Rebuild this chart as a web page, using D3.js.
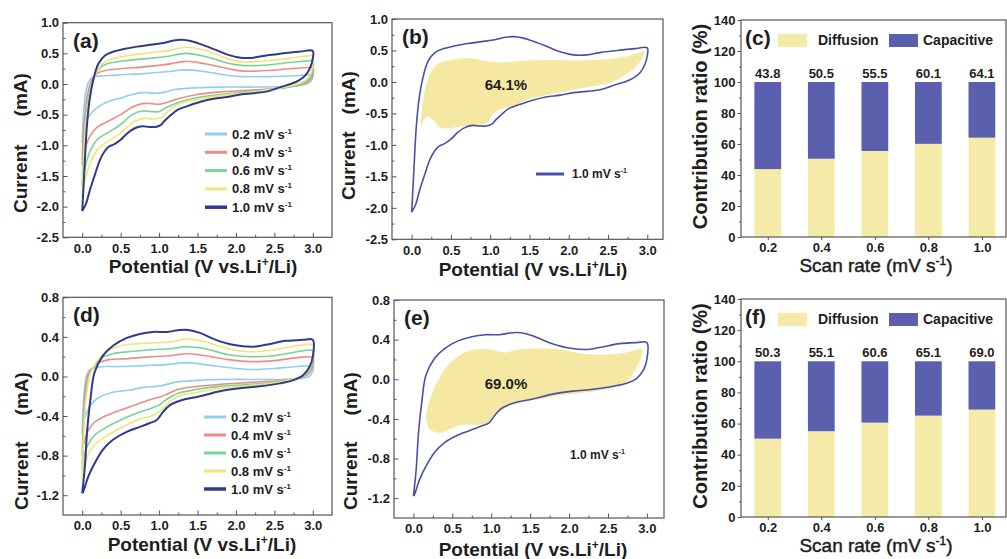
<!DOCTYPE html>
<html>
<head>
<meta charset="utf-8">
<script src="https://cdn.jsdelivr.net/npm/d3@7"></script>
<style>
  body { margin: 0; background: #fff; }
  svg { display: block; font-family: "Liberation Sans", Arial, sans-serif; }
</style>
</head>
<body>
<svg id="fig" width="1007" height="559"></svg>
<script>
// ---------------- data ----------------
const scanRates = [0.2, 0.4, 0.6, 0.8, 1.0];
const diffusionC = [43.8, 50.5, 55.5, 60.1, 64.1];
const diffusionF = [50.3, 55.1, 60.6, 65.1, 69.0];

const potentialTicks = [0.0, 0.5, 1.0, 1.5, 2.0, 2.5, 3.0];
const currentTicksTop = [-2.5, -2.0, -1.5, -1.0, -0.5, 0.0, 0.5, 1.0];
const currentTicksBottom = [-1.2, -0.8, -0.4, 0.0, 0.4, 0.8];
const ratioTicks = [0, 20, 40, 60, 80, 100, 120, 140];

// CV loops, sample 1: [potential V, current mA], anodic sweep then cathodic sweep
const cvA02 = [[0.0,-0.97],[0.01,-0.6],[0.03,-0.3],[0.06,-0.05],[0.1,0.07],[0.15,0.12],[0.25,0.13],[0.5,0.15],[0.8,0.17],[1.1,0.2],[1.35,0.23],[1.6,0.2],[1.9,0.14],[2.1,0.12],[2.4,0.12],[2.7,0.13],[2.95,0.15],[3.0,0.16],
  [3.0,0.1],[2.95,0.02],[2.85,-0.02],[2.6,-0.04],[2.2,-0.05],[1.8,-0.05],[1.5,-0.06],[1.2,-0.09],[1.05,-0.14],[0.95,-0.15],[0.8,-0.14],[0.65,-0.17],[0.5,-0.23],[0.35,-0.28],[0.2,-0.38],[0.1,-0.5],[0.05,-0.62],[0.02,-0.8],[0.0,-0.97]];
const cvA04 = [[0.0,-1.32],[0.01,-0.9],[0.04,-0.45],[0.08,-0.1],[0.14,0.1],[0.2,0.18],[0.3,0.22],[0.5,0.25],[0.8,0.28],[1.1,0.32],[1.35,0.37],[1.6,0.33],[1.9,0.25],[2.1,0.21],[2.4,0.22],[2.7,0.25],[2.95,0.27],[3.0,0.27],
  [3.0,0.15],[2.95,0.05],[2.85,-0.01],[2.6,-0.06],[2.2,-0.1],[1.8,-0.13],[1.5,-0.17],[1.25,-0.24],[1.1,-0.3],[1.0,-0.33],[0.9,-0.32],[0.78,-0.32],[0.65,-0.38],[0.5,-0.5],[0.35,-0.6],[0.2,-0.7],[0.1,-0.85],[0.04,-1.05],[0.0,-1.32]];
const cvA06 = [[0.0,-1.65],[0.015,-1.1],[0.05,-0.5],[0.1,-0.1],[0.16,0.12],[0.22,0.25],[0.3,0.32],[0.5,0.37],[0.8,0.41],[1.1,0.45],[1.35,0.5],[1.6,0.45],[1.9,0.34],[2.1,0.3],[2.4,0.31],[2.7,0.35],[2.95,0.38],[3.0,0.38],
  [3.0,0.22],[2.95,0.08],[2.85,0.0],[2.6,-0.07],[2.2,-0.12],[1.8,-0.17],[1.5,-0.22],[1.25,-0.3],[1.1,-0.38],[1.0,-0.45],[0.9,-0.45],[0.78,-0.44],[0.65,-0.5],[0.5,-0.66],[0.35,-0.78],[0.2,-0.9],[0.1,-1.1],[0.04,-1.35],[0.0,-1.65]];
const cvA08 = [[0.0,-1.85],[0.015,-1.3],[0.05,-0.6],[0.1,-0.15],[0.17,0.15],[0.24,0.3],[0.32,0.38],[0.5,0.44],[0.8,0.5],[1.1,0.54],[1.35,0.6],[1.6,0.55],[1.9,0.41],[2.1,0.36],[2.4,0.38],[2.7,0.42],[2.95,0.46],[3.0,0.46],
  [3.0,0.3],[2.95,0.12],[2.85,0.02],[2.6,-0.06],[2.2,-0.13],[1.8,-0.19],[1.5,-0.25],[1.25,-0.33],[1.12,-0.44],[1.02,-0.55],[0.92,-0.57],[0.8,-0.56],[0.65,-0.63],[0.5,-0.8],[0.35,-0.92],[0.2,-1.07],[0.1,-1.3],[0.04,-1.55],[0.0,-1.85]];
const cvA10 = [[0.0,-2.07],[0.017,-1.68],[0.035,-1.24],[0.06,-0.7],[0.096,-0.26],[0.15,0.1],[0.21,0.33],[0.3,0.47],[0.41,0.53],[0.54,0.57],[0.71,0.61],[0.89,0.64],[1.06,0.67],[1.19,0.71],[1.3,0.72],[1.41,0.7],[1.54,0.65],[1.71,0.57],[1.89,0.48],[2.06,0.43],[2.23,0.43],[2.41,0.47],[2.62,0.5],[2.84,0.53],[3.0,0.54],
  [3.0,0.42],[2.97,0.28],[2.91,0.15],[2.82,0.06],[2.71,0.0],[2.58,-0.05],[2.41,-0.12],[2.23,-0.15],[2.06,-0.17],[1.89,-0.21],[1.71,-0.24],[1.54,-0.29],[1.37,-0.36],[1.24,-0.42],[1.15,-0.51],[1.08,-0.59],[1.02,-0.67],[0.95,-0.7],[0.87,-0.7],[0.78,-0.69],[0.67,-0.73],[0.58,-0.81],[0.5,-0.91],[0.42,-0.98],[0.35,-1.02],[0.29,-1.1],[0.23,-1.24],[0.17,-1.46],[0.1,-1.73],[0.05,-1.95],[0.0,-2.07]];

// CV loops, sample 2
const cvD02 = [[0.0,-0.58],[0.01,-0.35],[0.03,-0.12],[0.06,0.02],[0.1,0.07],[0.18,0.09],[0.3,0.1],[0.5,0.1],[0.8,0.11],[1.1,0.12],[1.35,0.14],[1.6,0.12],[1.9,0.09],[2.2,0.07],[2.5,0.08],[2.8,0.1],[3.0,0.1],
  [3.0,0.05],[2.95,0.0],[2.85,-0.02],[2.6,-0.03],[2.2,-0.03],[1.8,-0.03],[1.5,-0.04],[1.2,-0.06],[1.05,-0.09],[0.95,-0.1],[0.8,-0.11],[0.6,-0.14],[0.4,-0.16],[0.2,-0.22],[0.1,-0.3],[0.04,-0.4],[0.01,-0.5],[0.0,-0.58]];
const cvD04 = [[0.0,-0.8],[0.015,-0.45],[0.04,-0.15],[0.08,0.02],[0.14,0.09],[0.22,0.14],[0.35,0.17],[0.6,0.18],[0.9,0.2],[1.15,0.21],[1.35,0.23],[1.6,0.21],[1.9,0.17],[2.2,0.15],[2.5,0.16],[2.8,0.19],[3.0,0.19],
  [3.0,0.1],[2.95,0.03],[2.85,-0.01],[2.6,-0.04],[2.2,-0.06],[1.8,-0.08],[1.5,-0.1],[1.25,-0.13],[1.1,-0.18],[1.0,-0.21],[0.9,-0.23],[0.75,-0.27],[0.5,-0.34],[0.3,-0.4],[0.15,-0.47],[0.07,-0.56],[0.02,-0.68],[0.0,-0.8]];
const cvD06 = [[0.0,-0.95],[0.015,-0.55],[0.05,-0.18],[0.1,0.03],[0.17,0.12],[0.26,0.19],[0.4,0.23],[0.6,0.25],[0.9,0.27],[1.15,0.28],[1.35,0.3],[1.6,0.28],[1.9,0.22],[2.2,0.2],[2.5,0.21],[2.8,0.25],[3.0,0.26],
  [3.0,0.14],[2.95,0.05],[2.85,0.0],[2.6,-0.05],[2.2,-0.08],[1.8,-0.1],[1.5,-0.13],[1.25,-0.17],[1.1,-0.23],[1.0,-0.29],[0.9,-0.32],[0.75,-0.36],[0.5,-0.44],[0.3,-0.52],[0.15,-0.6],[0.07,-0.7],[0.02,-0.82],[0.0,-0.95]];
const cvD08 = [[0.0,-1.05],[0.015,-0.65],[0.05,-0.22],[0.11,0.04],[0.19,0.15],[0.3,0.24],[0.45,0.3],[0.7,0.33],[0.95,0.34],[1.15,0.35],[1.35,0.38],[1.6,0.35],[1.9,0.28],[2.2,0.25],[2.5,0.27],[2.8,0.31],[3.0,0.32],
  [3.0,0.18],[2.95,0.07],[2.85,0.0],[2.6,-0.05],[2.2,-0.09],[1.8,-0.12],[1.5,-0.16],[1.25,-0.2],[1.1,-0.28],[1.0,-0.36],[0.9,-0.4],[0.75,-0.43],[0.5,-0.52],[0.3,-0.61],[0.15,-0.7],[0.07,-0.8],[0.02,-0.92],[0.0,-1.05]];
const cvD10 = [[0.0,-1.18],[0.035,-0.91],[0.065,-0.54],[0.11,-0.21],[0.16,0.04],[0.27,0.21],[0.4,0.31],[0.58,0.39],[0.75,0.43],[0.92,0.45],[1.1,0.45],[1.27,0.47],[1.38,0.47],[1.53,0.44],[1.74,0.37],[1.96,0.32],[2.22,0.3],[2.39,0.32],[2.65,0.36],[2.87,0.37],[3.0,0.37],
  [3.0,0.2],[2.96,0.1],[2.87,0.01],[2.74,-0.04],[2.57,-0.07],[2.31,-0.1],[2.05,-0.12],[1.79,-0.15],[1.53,-0.2],[1.29,-0.24],[1.14,-0.29],[1.05,-0.36],[0.97,-0.44],[0.88,-0.47],[0.75,-0.51],[0.58,-0.56],[0.4,-0.64],[0.27,-0.74],[0.16,-0.88],[0.08,-1.01],[0.01,-1.17],[0.0,-1.18]];

// capacitive-controlled region at 1.0 mV s-1
const capB = [[0.12,-0.71],[0.14,-0.34],[0.18,-0.07],[0.24,0.14],[0.35,0.3],[0.5,0.35],[0.73,0.38],[0.9,0.34],[1.16,0.31],[1.45,0.34],[1.79,0.35],[2.13,0.34],[2.47,0.36],[2.72,0.4],[2.89,0.46],[2.96,0.48],
  [2.94,0.38],[2.85,0.24],[2.72,0.11],[2.55,0.0],[2.3,-0.07],[2.0,-0.14],[1.71,-0.21],[1.45,-0.29],[1.33,-0.37],[1.24,-0.4],[1.11,-0.44],[1.03,-0.52],[0.97,-0.63],[0.86,-0.71],[0.69,-0.7],[0.56,-0.72],[0.44,-0.74],[0.35,-0.71],[0.27,-0.6],[0.2,-0.55],[0.16,-0.6]];
const capE = [[0.18,-0.46],[0.16,-0.36],[0.22,-0.19],[0.31,-0.02],[0.44,0.14],[0.61,0.25],[0.78,0.3],[0.99,0.3],[1.17,0.27],[1.34,0.3],[1.59,0.31],[1.89,0.3],[2.15,0.26],[2.41,0.25],[2.67,0.26],[2.94,0.3],
  [2.92,0.21],[2.84,0.08],[2.75,-0.02],[2.54,-0.09],[2.24,-0.13],[1.89,-0.16],[1.55,-0.21],[1.34,-0.24],[1.17,-0.29],[1.04,-0.36],[0.95,-0.44],[0.82,-0.46],[0.61,-0.46],[0.48,-0.5],[0.35,-0.54],[0.27,-0.53],[0.2,-0.5]];

// ---------------- style ----------------
const INK = "#1e1e1e";
const FRAME = "#555";
const rateColors = ["#8ed0ee", "#f08a84", "#78d494", "#eee67a", "#2f3a8f"];
const DIFF_COLOR = "#f4eba8";
const CAP_COLOR = "#5a5fae";
const FILL_COLOR = "#f4e8a2";

const svg = d3.select("#fig");
svg.append("rect").attr("width", 1007).attr("height", 559).attr("fill", "#fff");

function styleTicks(sel, size) {
  sel.select(".domain").remove();
  sel.selectAll(".tick line").attr("stroke", FRAME);
  sel.selectAll(".tick text")
    .attr("fill", INK).attr("font-size", size).attr("font-weight", "bold")
    .attr("font-family", "'Liberation Sans', Arial, sans-serif");
}

// text made of plain runs and raised runs
function supText(g, x, y, parts, opts) {
  const t = g.append("text").attr("x", x).attr("y", y)
    .attr("fill", INK).attr("font-size", opts.size)
    .attr("font-weight", opts.weight || "bold")
    .attr("text-anchor", opts.anchor || "start");
  const lift = opts.size * 0.38;
  let raised = false;
  parts.forEach(p => {
    const span = t.append("tspan");
    if (p.sup) {
      span.attr("font-size", Math.round(opts.size * 0.62)).attr("dy", -lift).text(p.sup);
      raised = true;
    } else {
      if (raised) { span.attr("dy", lift); raised = false; }
      span.text(p.t);
    }
  });
  return t;
}

const fmt1 = d => d.toFixed(1);
const potentialTitle = [{t: "Potential (V vs.Li"}, {sup: "+"}, {t: "/Li)"}];
const rateLabel = r => [{t: fmt1(r) + " mV s"}, {sup: "-1"}];

function cvPanel(cfg) {
  const g = svg.append("g");
  const x = d3.scaleLinear().domain(cfg.xDomain).range([cfg.left, cfg.right]);
  const y = d3.scaleLinear().domain(cfg.yDomain).range([cfg.bottom, cfg.top]);

  // inward ticks, minor then major
  const xMinor = d3.range(0.25, 3.0, 0.5);
  const yMinor = cfg.yTicks.slice(0, -1).map((v, i) => (v + cfg.yTicks[i + 1]) / 2);
  g.append("g").attr("transform", `translate(0,${cfg.bottom})`)
    .call(d3.axisBottom(x).tickValues(xMinor).tickSize(-2.5).tickFormat(""))
    .call(s => styleTicks(s, 13));
  g.append("g").attr("transform", `translate(${cfg.left},0)`)
    .call(d3.axisLeft(y).tickValues(yMinor).tickSize(-2.5).tickFormat(""))
    .call(s => styleTicks(s, 13));
  g.append("g").attr("transform", `translate(0,${cfg.bottom})`)
    .call(d3.axisBottom(x).tickValues(potentialTicks).tickSize(-4.5).tickPadding(6).tickFormat(fmt1))
    .call(s => styleTicks(s, 13));
  g.append("g").attr("transform", `translate(${cfg.left},0)`)
    .call(d3.axisLeft(y).tickValues(cfg.yTicks).tickSize(-4.5).tickPadding(4).tickFormat(fmt1))
    .call(s => styleTicks(s, 13));

  const line = d3.line().x(d => x(d[0])).y(d => y(d[1])).curve(d3.curveCatmullRom.alpha(0.5));

  if (cfg.fill) {
    g.append("path").datum(cfg.fill)
      .attr("d", d3.line().x(d => x(d[0])).y(d => y(d[1])).curve(d3.curveCatmullRomClosed.alpha(0.5)))
      .attr("fill", FILL_COLOR).attr("stroke", "none");
  }
  cfg.loops.forEach((loop, i) => {
    g.append("path").datum(loop).attr("d", line)
      .attr("fill", "none").attr("stroke", cfg.colors[i])
      .attr("stroke-width", cfg.widths[i]).attr("stroke-linejoin", "round");
  });

  g.append("rect").attr("x", cfg.left).attr("y", cfg.top)
    .attr("width", cfg.right - cfg.left).attr("height", cfg.bottom - cfg.top)
    .attr("fill", "none").attr("stroke", FRAME).attr("stroke-width", 1.2);

  // panel letter
  g.append("text").attr("x", cfg.left + 10).attr("y", cfg.top + 25)
    .attr("font-size", 21).attr("font-weight", "bold").attr("fill", INK).text(cfg.letter);

  // axis titles
  supText(g, cfg.xTitleX, cfg.xTitleY, potentialTitle, {size: 19, anchor: "middle"});
  const yt = g.append("text").attr("transform", `translate(${cfg.yTitleX},${cfg.yTitleY}) rotate(-90)`)
    .attr("font-size", 19).attr("font-weight", "bold").attr("fill", INK);
  yt.append("tspan").text("Current");
  yt.append("tspan").attr("dx", cfg.yTitleGap).text("(mA)");

  return {g, x, y};
}

function cvLegend(g, lx, ly, step, rates, colors) {
  rates.forEach((r, i) => {
    const yy = ly + i * step;
    g.append("line").attr("x1", lx).attr("x2", lx + 22).attr("y1", yy).attr("y2", yy)
      .attr("stroke", colors[i]).attr("stroke-width", i === rates.length - 1 ? 3.5 : 3);
    supText(g, lx + 27, yy + 4.5, rateLabel(r), {size: 13});
  });
}

function barPanel(cfg) {
  const g = svg.append("g");
  const x = d3.scaleLinear().domain([0.1, 1.09]).range([cfg.left, cfg.right]);
  const y = d3.scaleLinear().domain([0, 140]).range([cfg.bottom, cfg.top]);
  const half = (x(0.3) - x(0.2)) / 2;

  g.append("g").attr("transform", `translate(${cfg.left},0)`)
    .call(d3.axisLeft(y).tickValues(d3.range(10, 140, 20)).tickSize(2).tickFormat(""))
    .call(s => styleTicks(s, 13));
  g.append("g").attr("transform", `translate(${cfg.left},0)`)
    .call(d3.axisLeft(y).tickValues(ratioTicks).tickSize(3.5).tickPadding(2).tickFormat(d3.format("d")))
    .call(s => styleTicks(s, 13));
  g.append("g").attr("transform", `translate(0,${cfg.bottom})`)
    .call(d3.axisBottom(x).tickValues(scanRates).tickSize(3).tickPadding(3).tickFormat(fmt1))
    .call(s => styleTicks(s, 13));

  // stacked bars: diffusion part from 0, capacitive part to 100
  g.selectAll("rect.diff").data(scanRates).join("rect").attr("class", "diff")
    .attr("x", d => x(d) - half).attr("width", half * 2)
    .attr("y", (d, i) => y(cfg.values[i])).attr("height", (d, i) => y(0) - y(cfg.values[i]))
    .attr("fill", DIFF_COLOR);
  g.selectAll("rect.cap").data(scanRates).join("rect").attr("class", "cap")
    .attr("x", d => x(d) - half).attr("width", half * 2)
    .attr("y", y(100)).attr("height", (d, i) => y(cfg.values[i]) - y(100))
    .attr("fill", CAP_COLOR);
  g.selectAll("text.val").data(scanRates).join("text").attr("class", "val")
    .attr("x", d => x(d)).attr("y", y(100) - 4).attr("text-anchor", "middle")
    .attr("font-size", 13).attr("font-weight", "bold").attr("fill", INK)
    .text((d, i) => cfg.values[i].toFixed(1));

  g.append("rect").attr("x", cfg.left).attr("y", cfg.top)
    .attr("width", cfg.right - cfg.left).attr("height", cfg.bottom - cfg.top)
    .attr("fill", "none").attr("stroke", FRAME).attr("stroke-width", 1.2);

  // letter + legend
  g.append("text").attr("x", cfg.left + 4).attr("y", cfg.top + 25)
    .attr("font-size", 21).attr("font-weight", "bold").attr("fill", INK).text(cfg.letter);
  const ly = cfg.top + 14;
  g.append("rect").attr("x", 778).attr("y", ly).attr("width", 29).attr("height", 13).attr("fill", DIFF_COLOR);
  g.append("text").attr("x", 818).attr("y", ly + 11).attr("font-size", 14).attr("font-weight", "bold")
    .attr("fill", INK).text("Diffusion");
  g.append("rect").attr("x", 889).attr("y", ly).attr("width", 29).attr("height", 13).attr("fill", CAP_COLOR);
  g.append("text").attr("x", 923).attr("y", ly + 11).attr("font-size", 14).attr("font-weight", "bold")
    .attr("fill", INK).text("Capacitive");

  // titles
  g.append("text").attr("transform", `translate(${cfg.left - 34},${(cfg.top + cfg.bottom) / 2 - 2}) rotate(-90)`)
    .attr("text-anchor", "middle").attr("font-size", 20).attr("font-weight", "bold").attr("fill", INK)
    .text("Contribution ratio (%)");
  supText(g, 876, cfg.bottom + 35, [{t: "Scan rate (mV s"}, {sup: "-1"}, {t: ")"}],
    {size: 19, weight: "normal", anchor: "middle"}).attr("stroke", INK).attr("stroke-width", 0.45);
}

// ---------------- panels ----------------
const panelA = cvPanel({
  left: 63, right: 332, top: 22.7, bottom: 237.3,
  xDomain: [-0.25, 3.25], yDomain: [-2.5, 1.0], yTicks: currentTicksTop,
  loops: [cvA02, cvA04, cvA06, cvA08, cvA10], colors: rateColors, widths: [1.6, 1.6, 1.6, 1.6, 2],
  letter: "(a)", xTitleX: 203, xTitleY: 273, yTitleX: 27, yTitleY: 213, yTitleGap: 28
});
cvLegend(panelA.g, 205, 134, 18.3, scanRates, rateColors);

const panelB = cvPanel({
  left: 392, right: 663, top: 19, bottom: 239.3,
  xDomain: [-0.25, 3.2], yDomain: [-2.5, 1.0], yTicks: currentTicksTop,
  loops: [cvA10], colors: ["#4a50a8"], widths: [1.6], fill: capB,
  letter: "(b)", xTitleX: 533, xTitleY: 276, yTitleX: 355, yTitleY: 200, yTitleGap: 17
});
panelB.g.append("text").attr("x", panelB.x(1.2)).attr("y", panelB.y(-0.05) + 5)
  .attr("text-anchor", "middle").attr("font-size", 15).attr("font-weight", "bold").attr("fill", INK).text("64.1%");
panelB.g.append("line").attr("x1", 536).attr("x2", 564).attr("y1", 174).attr("y2", 174)
  .attr("stroke", "#4a50a8").attr("stroke-width", 3);
supText(panelB.g, 572, 178, rateLabel(1.0), {size: 12});

barPanel({left: 741, right: 1006, top: 20, bottom: 237, values: diffusionC, letter: "(c)"});

const panelD = cvPanel({
  left: 63, right: 332, top: 297.3, bottom: 515,
  xDomain: [-0.25, 3.25], yDomain: [-1.4, 0.8], yTicks: currentTicksBottom,
  loops: [cvD02, cvD04, cvD06, cvD08, cvD10], colors: rateColors, widths: [1.6, 1.6, 1.6, 1.6, 2],
  letter: "(d)", xTitleX: 202, xTitleY: 551, yTitleX: 28, yTitleY: 510, yTitleGap: 26
});
cvLegend(panelD.g, 204, 417, 18, scanRates, rateColors);

const panelE = cvPanel({
  left: 394, right: 664, top: 300, bottom: 518,
  xDomain: [-0.25, 3.22], yDomain: [-1.4, 0.8], yTicks: currentTicksBottom,
  loops: [cvD10], colors: ["#4a50a8"], widths: [1.6], fill: capE,
  letter: "(e)", xTitleX: 533, xTitleY: 556, yTitleX: 357, yTitleY: 510, yTitleGap: 26
});
panelE.g.append("text").attr("x", panelE.x(1.19)).attr("y", panelE.y(-0.05) + 5)
  .attr("text-anchor", "middle").attr("font-size", 15).attr("font-weight", "bold").attr("fill", INK).text("69.0%");
supText(panelE.g, 570, 459, rateLabel(1.0), {size: 12});

barPanel({left: 741, right: 1006, top: 299, bottom: 517, values: diffusionF, letter: "(f)"});
</script>
</body>
</html>
